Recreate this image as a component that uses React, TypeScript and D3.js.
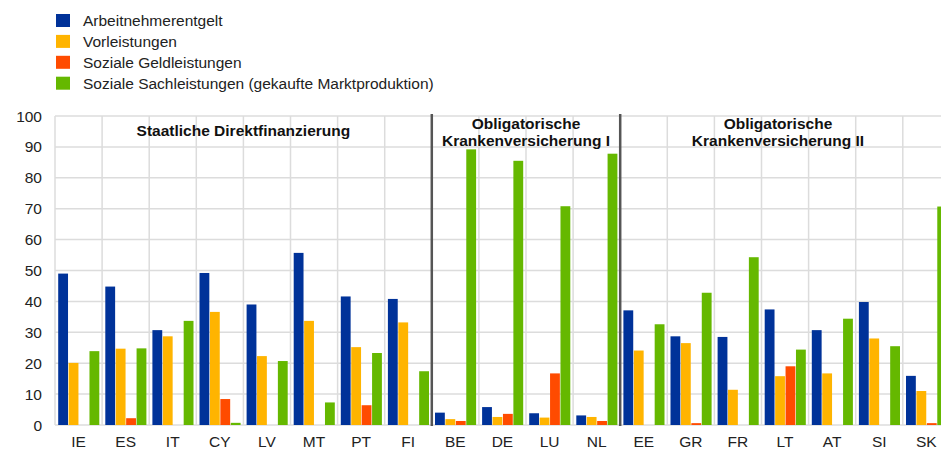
import React from "react";
import * as d3 from "d3";

const countries = ["IE", "ES", "IT", "CY", "LV", "MT", "PT", "FI", "BE", "DE", "LU", "NL", "EE", "GR", "FR", "LT", "AT", "SI", "SK"];
const seriesNames = [
  "Arbeitnehmerentgelt",
  "Vorleistungen",
  "Soziale Geldleistungen",
  "Soziale Sachleistungen (gekaufte Marktproduktion)",
];
const seriesColors = ["#003299", "#ffb400", "#ff4b00", "#65b800"];

const arbeitnehmerentgelt = [49.0, 44.8, 30.7, 49.2, 39.0, 55.7, 41.6, 40.8, 4.0, 5.8, 3.8, 3.1, 37.1, 28.7, 28.5, 37.4, 30.7, 39.8, 15.9];
const vorleistungen = [20.1, 24.7, 28.7, 36.6, 22.3, 33.7, 25.2, 33.2, 1.9, 2.6, 2.4, 2.6, 24.1, 26.5, 11.4, 15.8, 16.7, 28.0, 11.0];
const geldleistungen = [0, 2.2, 0, 8.4, 0, 0, 6.4, 0, 1.3, 3.6, 16.7, 1.3, 0, 0.6, 0, 19.0, 0, 0, 0.6];
const sachleistungen = [23.9, 24.8, 33.7, 0.7, 20.7, 7.3, 23.3, 17.4, 89.2, 85.5, 70.8, 87.8, 32.6, 42.8, 54.3, 24.4, 34.4, 25.5, 70.7];

const yTicks = [0, 10, 20, 30, 40, 50, 60, 70, 80, 90, 100];

const groups = [
  { from: 0, to: 7, lines: ["Staatliche Direktfinanzierung"] },
  { from: 8, to: 11, lines: ["Obligatorische", "Krankenversicherung I"] },
  { from: 12, to: 18, lines: ["Obligatorische", "Krankenversicherung II"] },
];

const W = 941;
const H = 450;
const left = 55;
const bandW = 47.1;
const top = 116;
const bottom = 425;
const fs = 15.5;

export default function App() {
  const allSeries = [arbeitnehmerentgelt, vorleistungen, geldleistungen, sachleistungen];
  const x = d3
    .scaleBand<string>()
    .domain(countries)
    .range([left, left + bandW * countries.length])
    .paddingInner(0)
    .paddingOuter(0);
  const xi = d3
    .scaleBand<number>()
    .domain(d3.range(seriesNames.length))
    .range([3.2, x.bandwidth() - 2.2])
    .paddingInner(0);
  const y = d3.scaleLinear().domain([0, 100]).range([bottom, top]);
  const font = "'Liberation Sans', Arial, sans-serif";
  const rightEdge = left + bandW * countries.length;

  return (
    <svg
      width={W}
      height={H}
      style={{ position: "absolute", left: 0, top: 0, background: "#fff" }}
      fontFamily={font}
    >
      {/* legend */}
      {seriesNames.map((name, i) => (
        <g key={name} transform={`translate(56, ${14 + i * 20.9})`}>
          <rect width={14} height={13} fill={seriesColors[i]} />
          <text x={27} y={12.3} fontSize={fs} fill="#222">
            {name}
          </text>
        </g>
      ))}

      {/* horizontal grid */}
      {yTicks.map((t) => (
        <line key={t} x1={left} x2={rightEdge} y1={y(t)} y2={y(t)} stroke="#dcdcdc" strokeWidth={1.5} />
      ))}
      {/* vertical grid */}
      {countries.map((c) => (
        <line key={c} x1={x(c)!} x2={x(c)!} y1={top} y2={bottom} stroke="#dcdcdc" strokeWidth={1.5} />
      ))}

      {/* y tick labels */}
      {yTicks.map((t) => (
        <text key={t} x={42} y={y(t) + 5.5} textAnchor="end" fontSize={fs} fill="#222">
          {t}
        </text>
      ))}

      {/* bars */}
      {countries.map((c, ci) => (
        <g key={c} transform={`translate(${x(c)}, 0)`}>
          {allSeries.map((s, si) =>
            s[ci] > 0 ? (
              <rect
                key={si}
                x={xi(si)!}
                y={y(s[ci])}
                width={xi.bandwidth() - 0.6}
                height={y(0) - y(s[ci])}
                fill={seriesColors[si]}
              />
            ) : null
          )}
        </g>
      ))}

      {/* group separators */}
      {[8, 12].map((i) => (
        <line
          key={i}
          x1={x(countries[i])!}
          x2={x(countries[i])!}
          y1={top - 2}
          y2={bottom + 1}
          stroke="#555"
          strokeWidth={2.5}
        />
      ))}

      {/* group titles */}
      {groups.map((g, gi) => {
        const cx = (x(countries[g.from])! + x(countries[g.to])! + bandW) / 2;
        const cxAdj = gi === 2 ? 778 : cx;
        const y0 = g.lines.length === 1 ? 136 : 128.5;
        return (
          <text key={gi} textAnchor="middle" fontSize={fs} fontWeight="bold" fill="#111">
            {g.lines.map((l, li) => (
              <tspan key={li} x={cxAdj} y={y0 + li * 17}>
                {l}
              </tspan>
            ))}
          </text>
        );
      })}

      {/* x labels */}
      {countries.map((c) => (
        <text key={c} x={x(c)! + bandW / 2} y={447} textAnchor="middle" fontSize={fs} fill="#222">
          {c}
        </text>
      ))}
    </svg>
  );
}
